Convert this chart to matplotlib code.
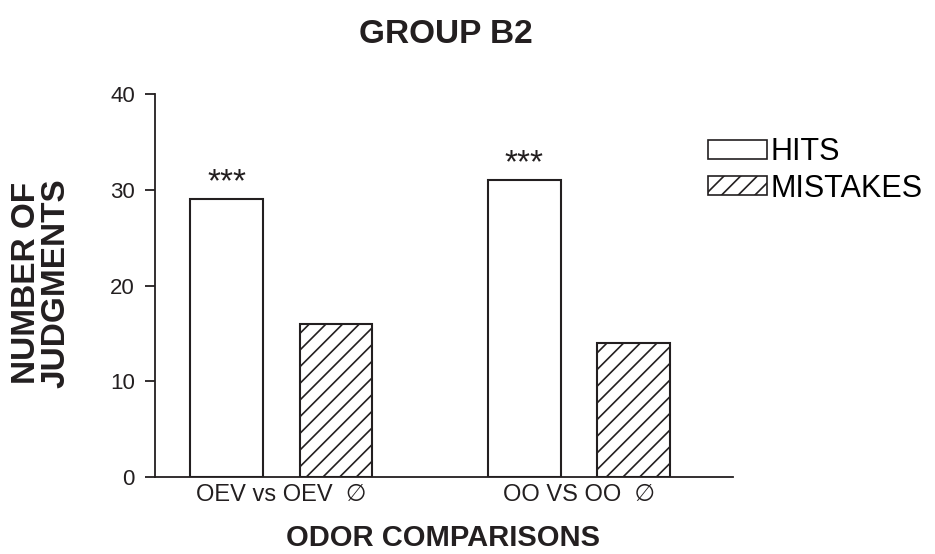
import numpy as np
import matplotlib
matplotlib.use("Agg")
import matplotlib.pyplot as plt
from matplotlib.patches import Patch

plt.rcParams['font.family'] = ['Liberation Sans', 'DejaVu Sans']
plt.rcParams['hatch.linewidth'] = 1.2

# odor comparison groups and judgment counts
comparisons = ['OEV vs OEV  \u2205', 'OO VS OO  \u2205']
hits = [29, 31]
mistakes = [16, 14]
stars = ['***', '***']

ink = '#231f20'
fig = plt.figure(figsize=(9.35, 5.54), dpi=100)
ax = fig.add_axes([0.1658, 0.139, 0.6182, 0.691])

x = np.arange(len(comparisons))
w = 0.242
off = 0.183
ax.bar(x - off, hits, w, facecolor='white', edgecolor=ink, linewidth=1.5)
ax.bar(x + off, mistakes, w, facecolor='white', edgecolor=ink, linewidth=1.5,
       hatch='//')
for xi, h, s in zip(x, hits, stars):
    ax.text(xi - off, h + 0.1, s, ha='center', va='bottom', fontsize=24,
            color=ink)

ax.set_xlim(-0.423, 1.517)
ax.set_ylim(0, 40)
ax.set_yticks([0, 10, 20, 30, 40])
ax.set_xticks(x)
ax.set_xticklabels(comparisons)
ax.tick_params(axis='x', length=0, pad=5, labelsize=17, colors=ink)
ax.tick_params(axis='y', length=7.5, width=1.3, pad=7, labelsize=16,
               colors=ink)
for sp in ['top', 'right']:
    ax.spines[sp].set_visible(False)
for sp in ['left', 'bottom']:
    ax.spines[sp].set_linewidth(1.3)
    ax.spines[sp].set_color(ink)

fig.text(0.477, 0.922, 'GROUP B2', ha='center', va='baseline', fontsize=24,
         fontweight='bold', color=ink)
fig.text(0.474, 0.015, 'ODOR COMPARISONS', ha='center', va='baseline',
         fontsize=21, fontweight='bold', color=ink)
fig.text(0.044, 0.489, 'NUMBER OF\nJUDGMENTS', ha='center', va='center',
         rotation=90, fontsize=24, fontweight='bold', color=ink,
         linespacing=0.92)

handles = [Patch(facecolor='white', edgecolor=ink, linewidth=1.2, label='HITS'),
           Patch(facecolor='white', edgecolor=ink, linewidth=1.2, hatch='//',
                 label='MISTAKES')]
fig.legend(handles=handles, loc='upper left', bbox_to_anchor=(0.757, 0.752),
           frameon=False, fontsize=22, handlelength=1.95, handleheight=0.55,
           handletextpad=0.1, labelspacing=0.2, borderaxespad=0,
           borderpad=0)

fig.savefig('out.png', dpi=100)
